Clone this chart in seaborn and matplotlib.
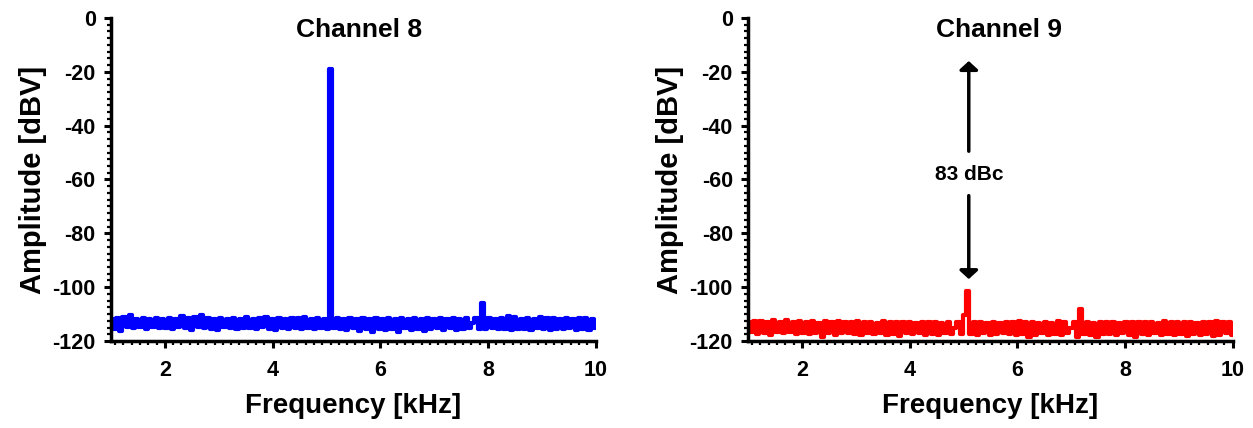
import numpy as np
import pandas as pd
import matplotlib
matplotlib.use("Agg")
import matplotlib.pyplot as plt
from matplotlib.ticker import AutoMinorLocator
import seaborn as sns

# ---------------- data ----------------
freq_start, freq_step = 1.0, 0.06   # kHz bins
ch8_amp = [
    -112.0, -115.4, -111.6, -116.2, -111.2, -114.9, -110.4, -115.3, -111.9, -114.8,
    -111.5, -115.6, -112.0, -114.7, -111.4, -115.2, -111.8, -115.0, -111.3, -115.5,
    -111.7, -114.9, -110.6, -115.3, -111.5, -115.8, -111.2, -114.8, -110.5, -115.1,
    -111.6, -115.4, -111.9, -116.0, -111.3, -114.9, -111.7, -115.2, -111.4, -115.6,
    -111.8, -115.0, -111.2, -115.3, -111.9, -115.7, -111.5, -114.9, -111.1, -115.4,
    -111.7, -115.8, -111.4, -115.1, -111.9, -115.5, -111.3, -115.0, -111.6, -115.7,
    -111.2, -115.2, -111.8, -115.6, -111.4, -115.1, -111.7, -115.4, -19.0, -115.2,
    -111.6, -115.5, -111.9, -116.1, -111.5, -115.3, -111.8, -116.4, -111.4, -115.6,
    -111.9, -116.8, -111.6, -115.4, -112.0, -116.0, -111.5, -115.7, -111.8, -116.5,
    -111.4, -115.3, -111.7, -115.9, -111.3, -115.5, -111.9, -116.2, -111.6, -115.4,
    -111.8, -115.1, -111.4, -115.8, -111.7, -115.3, -111.5, -116.0, -111.9, -115.6,
    -111.3, -115.2, -113.4, -111.6, -115.7, -106.0, -115.6, -111.5, -115.2, -111.8,
    -115.7, -111.3, -115.6, -110.9, -115.8, -111.1, -115.4, -111.9, -115.6, -111.4,
    -115.9, -111.7, -115.3, -111.2, -115.7, -111.6, -116.0, -111.5, -115.4, -111.8,
    -115.6, -111.4, -115.3, -111.9, -115.8, -111.6, -115.5, -111.3, -115.9, -111.7, -115.2,
]
ch9_amp = [
    -113.0, -116.8, -112.6, -117.3, -112.4, -116.9, -113.1, -117.6, -112.2, -116.7,
    -112.8, -117.2, -112.3, -116.8, -113.0, -117.5, -112.6, -116.9, -112.9, -117.4,
    -112.5, -117.0, -113.2, -118.6, -112.7, -117.1, -113.0, -117.6, -112.4, -117.2,
    -112.9, -116.9, -113.1, -117.5, -112.6, -117.8, -113.0, -117.1, -112.8, -117.4,
    -113.2, -117.0, -112.7, -117.6, -113.0, -117.3, -112.8, -118.1, -113.1, -117.2,
    -112.9, -117.5, -113.3, -117.0, -112.8, -117.8, -113.1, -117.3, -112.9, -117.6,
    -113.2, -117.1, -112.8, -117.4, -115.0, -112.9, -117.3, -110.2, -101.5, -117.4,
    -113.1, -117.6, -112.9, -117.2, -113.3, -117.8, -112.8, -117.4, -113.2, -117.0,
    -112.9, -117.5, -113.1, -117.9, -112.7, -117.3, -113.0, -118.4, -112.8, -117.6,
    -113.2, -117.1, -112.9, -117.7, -113.3, -117.4, -112.6, -117.9, -113.0, -117.2,
    -115.0, -112.9, -118.5, -108.0, -117.4, -113.1, -117.6, -113.2, -118.6, -112.9,
    -117.5, -113.1, -117.3, -112.8, -117.8, -113.2, -117.1, -112.9, -117.6, -113.0,
    -118.7, -112.8, -117.4, -113.1, -117.9, -112.9, -117.2, -113.2, -117.7, -112.7,
    -117.3, -113.0, -117.8, -112.8, -117.5, -113.1, -118.3, -112.9, -117.4, -113.2,
    -117.9, -112.8, -117.3, -113.0, -118.2, -112.7, -117.6, -113.1, -117.2, -112.9, -117.7,
]
titles = ["Channel 8", "Channel 9"]
title_x = [0.511, 0.518]
colors = ["#0000FF", "#FF0000"]
x_ticks = [2, 4, 6, 8, 10]
y_ticks = [0, -20, -40, -60, -80, -100, -120]
annot_text = "83 dBc"
annot_x = 5.1
annot_top, annot_bottom = -16.0, -97.0
annot_gap_top, annot_gap_bottom = -49.5, -66.0
annot_text_y = -58.0

freq = freq_start + freq_step * np.arange(len(ch8_amp))

# ---------------- style ----------------
sns.set_style("ticks")
plt.rcParams["font.family"] = ["Liberation Sans", "DejaVu Sans"]
plt.rcParams["font.weight"] = "bold"
plt.rcParams["axes.unicode_minus"] = False
for k in ["text.color", "axes.labelcolor", "xtick.color", "ytick.color", "axes.edgecolor"]:
    plt.rcParams[k] = "black"

fig = plt.figure(figsize=(12.53, 4.28), dpi=100)
axes = [fig.add_axes([0.0886, 0.2033, 0.3867, 0.7547]),
        fig.add_axes([0.5970, 0.2033, 0.3867, 0.7547])]

for ax, amp, title, tx, col in zip(axes, [ch8_amp, ch9_amp], titles, title_x, colors):
    df = pd.DataFrame({"Frequency": freq, "Amplitude": amp})
    sns.lineplot(data=df, x="Frequency", y="Amplitude", ax=ax, color=col,
                 lw=3, drawstyle="steps-mid", sort=False)
    ax.set_xlim(1, 10)
    ax.set_ylim(-120, 0)
    ax.set_xticks(x_ticks)
    ax.set_yticks(y_ticks)
    ax.xaxis.set_minor_locator(AutoMinorLocator(13))
    ax.yaxis.set_minor_locator(AutoMinorLocator(8))
    for s in ["top", "right"]:
        ax.spines[s].set_visible(False)
    for s in ["left", "bottom"]:
        ax.spines[s].set_linewidth(2.5)
        ax.spines[s].set_color("black")
    ax.tick_params(which="major", direction="out", length=5, width=2.2,
                   labelsize=15.5, colors="black")
    ax.tick_params(axis="x", which="major", pad=9)
    ax.tick_params(axis="y", which="major", pad=6)
    ax.tick_params(which="minor", direction="out", length=3, width=1.6, colors="black")
    for lab in ax.get_xticklabels() + ax.get_yticklabels():
        lab.set_fontweight("bold")
    ax.set_xlabel("Frequency [kHz]", fontsize=20, fontweight="bold", labelpad=8)
    ax.set_ylabel("Amplitude [dBV]", fontsize=21, fontweight="bold", labelpad=4)
    ax.text(tx, 0.963, title, transform=ax.transAxes, ha="center", va="center",
            fontsize=19, fontweight="bold")
    ax.set_facecolor("white")

# annotation on channel 9
ax = axes[1]
arrow_style = "-|>,head_length=0.5,head_width=0.55"
ax.annotate("", xy=(annot_x, annot_top), xytext=(annot_x, annot_gap_top),
            arrowprops=dict(arrowstyle=arrow_style, color="black", lw=2.5,
                            shrinkA=0, shrinkB=0))
ax.annotate("", xy=(annot_x, annot_bottom), xytext=(annot_x, annot_gap_bottom),
            arrowprops=dict(arrowstyle=arrow_style, color="black", lw=2.5,
                            shrinkA=0, shrinkB=0))
ax.text(annot_x, annot_text_y, annot_text, ha="center", va="center",
        fontsize=15, fontweight="semibold", color="black")

fig.savefig("out.png", dpi=100, facecolor="white")
